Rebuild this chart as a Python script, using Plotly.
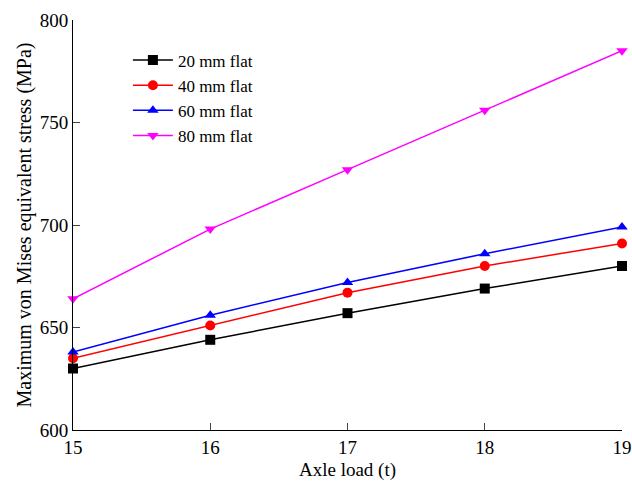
import plotly.graph_objects as go

axle_load = [15, 16, 17, 18, 19]
flat_20 = [630, 644, 657, 669, 680]
flat_40 = [635, 651, 667, 680, 691]
flat_60 = [638, 656, 672, 686, 699]
flat_80 = [664, 698, 727, 756, 785]

series = [
    ("20 mm flat", flat_20, "black", "square"),
    ("40 mm flat", flat_40, "red", "circle"),
    ("60 mm flat", flat_60, "blue", "triangle-up"),
    ("80 mm flat", flat_80, "magenta", "triangle-down"),
]

SERIF = "Liberation Serif"

fig = go.Figure()
for name, vals, color, sym in series:
    fig.add_trace(go.Scatter(
        x=axle_load, y=vals, name=name, mode="lines+markers",
        line=dict(color=color, width=1.5),
        marker=dict(symbol=sym, size=10, color=color),
        cliponaxis=False,
    ))

fig.update_layout(
    width=632, height=481,
    margin=dict(l=73, r=10, t=20, b=51),
    paper_bgcolor="white", plot_bgcolor="white",
    font=dict(family=SERIF, size=18, color="black"),
    legend=dict(x=0.1, y=0.945, xanchor="left", yanchor="top",
                bgcolor="rgba(0,0,0,0)",
                font=dict(family=SERIF, size=17, color="black"),
                tracegroupgap=0, itemwidth=40),
    xaxis=dict(range=[15, 19], tickvals=axle_load, ticks="inside", ticklen=7,
               showline=True, linecolor="black", linewidth=1, showgrid=False,
               zeroline=False, automargin=False,
               title=dict(text="Axle load (t)", standoff=10,
                          font=dict(family=SERIF, size=19, color="black")),
               tickfont=dict(family=SERIF, size=19, color="black")),
    yaxis=dict(range=[600, 800], tickvals=[600, 650, 700, 750, 800], ticks="inside",
               ticklen=7, showline=True, linecolor="black", linewidth=1, showgrid=False,
               zeroline=False, automargin=False,
               title=dict(text="Maximum von Mises equivalent stress (MPa)", standoff=2,
                          font=dict(family=SERIF, size=20, color="black")),
               tickfont=dict(family=SERIF, size=19, color="black")),
)
fig.write_html("out.html")
